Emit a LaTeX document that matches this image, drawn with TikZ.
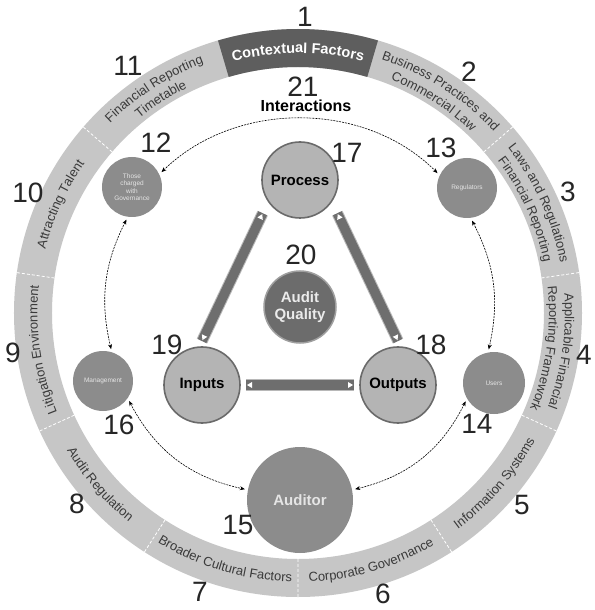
\documentclass[tikz,border=0pt]{standalone}
\usepackage{fontspec}
\setmainfont{Liberation Sans}
\usetikzlibrary{decorations.text,decorations.markings,arrows.meta,calc}
\definecolor{ringgray}{HTML}{C6C6C6}
\definecolor{ringdark}{HTML}{5E5E5E}
\definecolor{ringtxt}{HTML}{3A3A3A}
\definecolor{midgray}{HTML}{8C8C8C}
\definecolor{lightfill}{HTML}{B4B4B4}
\definecolor{darkborder}{HTML}{6A6A6A}
\definecolor{aqfill}{HTML}{6C6C6C}
\definecolor{barfill}{HTML}{6E6E6E}
\definecolor{barborder}{HTML}{B8B8B8}
\newcommand{\ringf}{\fontsize{13}{13}\selectfont}
\newcommand{\ctxf}{\fontsize{14.5}{14.5}\selectfont\bfseries}
\newcommand{\numf}{\fontsize{28}{28}\selectfont}
\newcommand{\cwtext}[4]{\path[decorate, decoration={text along path, text align=center, text color=ringtxt, text={|\ringf|#4}}] (#1:#3) arc[start angle=#1, end angle=#2, radius=#3];}
\begin{document}
\begin{tikzpicture}[x=1pt,y=1pt,
  num/.style={font=\numf, text=black!85, inner sep=0pt},
  maincirc/.style={circle, fill=lightfill, draw=darkborder, line width=1.6pt, minimum size=76pt, inner sep=0pt, font=\fontsize{15}{15}\selectfont\bfseries},
  aqcirc/.style={circle, fill=aqfill, draw=gray!75, line width=1.5pt, minimum size=72pt, inner sep=0pt, align=center, text=white!92!black, font=\fontsize{15}{17}\selectfont\bfseries},
  actor/.style={circle, fill=midgray, minimum size=60pt, inner sep=0pt, align=center, text=white!90!black, font=\fontsize{6.5}{7.5}\selectfont},
  inter/.style={black, line width=0.6pt, dash pattern=on 2pt off 1pt, {Stealth[length=5pt,width=4pt]}-{Stealth[length=5pt,width=4pt]}, shorten <=3pt, shorten >=3pt},
  bar/.style={draw=barborder, line width=1pt, double=barfill, double distance=9.5pt},
  barmarks/.style={decorate, decoration={markings,
     mark=at position 4pt with {\fill[white] (-3pt,0pt) -- (2pt,3pt) -- (2pt,-3pt) -- cycle;},
     mark=at position -4pt with {\fill[white] (3pt,0pt) -- (-2pt,3pt) -- (-2pt,-3pt) -- cycle;}}}
]
\fill[white] (-298,-297) rectangle (296,313);
\useasboundingbox (-298,-297) rectangle (296,313);

% ring
\fill[ringgray, even odd rule] (0,0) circle[radius=284] (0,0) circle[radius=246];
\fill[ringdark] (73.64:246) arc[start angle=73.64, end angle=106.36, radius=246] -- (106.36:284) arc[start angle=106.36, end angle=73.64, radius=284] -- cycle;
\foreach \k in {1,...,9} {
  \draw[white, line width=0.8pt, densely dashed] ({73.64-32.727*\k}:246) -- ({73.64-32.727*\k}:284);
}

% ring texts
\path[decorate, decoration={text along path, text align=center, text color=white, text={|\ctxf|Contextual Factors}}] (106:260) arc[start angle=106, end angle=74, radius=260];
\cwtext{73.3}{41.3}{267}{Business Practices and}
\cwtext{73.3}{41.3}{251}{Commercial Law}
\cwtext{40.5}{8.5}{267}{Laws and Regulations}
\cwtext{40.5}{8.5}{251}{Financial Reporting}
\cwtext{7.8}{-24.2}{267}{Applicable Financial}
\cwtext{7.8}{-24.2}{251}{Reporting Framework}
\cwtext{-56.9}{-24.9}{269}{Information Systems}
\cwtext{-89.6}{-57.6}{269}{Corporate Governance}
\cwtext{-122.4}{-90.4}{269}{Broader Cultural Factors}
\cwtext{-155.1}{-123.1}{269}{Audit Regulation}
\cwtext{204.2}{172.2}{260.5}{Litigation Environment}
\cwtext{171.4}{139.4}{260.5}{Attracting Talent}
\cwtext{138.7}{106.7}{267}{Financial Reporting}
\cwtext{138.7}{106.7}{251}{Timetable}

% nodes
\node[maincirc] (proc) at (2,133) {Process};
\node[maincirc] (inp) at (-96,-72) {Inputs};
\node[maincirc] (outp) at (100,-72) {Outputs};
\node[aqcirc] (aq) at (2,6) {Audit\\Quality};
\node[actor, minimum size=106pt, font=\fontsize{15}{15}\selectfont\bfseries] (aud) at (2,-187) {Auditor};
\node[actor] (tcwg) at (-166,126) {Those\\charged\\with\\Governance};
\node[actor] (reg) at (169,125) {Regulators};
\node[actor] (mgmt) at (-195,-68) {Management};
\node[actor, minimum size=62pt] (users) at (196,-70) {Users};
\node[font=\fontsize{16}{16}\selectfont\bfseries] (intl) at (8,207) {Interactions};

% bars
\coordinate (b1s) at ($(proc)+(221.7:50)$);
\coordinate (b1e) at ($(inp)+(90:44)$);
\coordinate (b2s) at ($(proc)+(-41.7:50)$);
\coordinate (b2e) at ($(outp)+(90:44)$);
\coordinate (b3s) at ($(inp)+(0:44)$);
\coordinate (b3e) at ($(outp)+(180:44)$);
\draw[bar] (b1s) -- (b1e);
\draw[bar] (b2s) -- (b2e);
\draw[bar] (b3s) -- (b3e);
\path[barmarks] (b1s) -- (b1e);
\path[barmarks] (b2s) -- (b2e);
\path[barmarks] (b3s) -- (b3e);

% interactions
\draw[inter] (tcwg.25) .. controls +(76,74) and +(-75,75) .. (reg.155);
\draw[inter] (tcwg.262) to[bend right=20] (mgmt.73);
\draw[inter] (reg.277) to[bend left=20] (users.101);
\draw[inter] (mgmt.-35) to[bend right=25] (aud.169);
\draw[inter] (users.210) to[bend left=25] (aud.11);

% numbers
\node[num] (n1) at (7,296) {1};
\node[num] (n2) at (171,241) {2};
\node[num] (n3) at (270,121) {3};
\node[num] (n4) at (286,-42) {4};
\node[num] (n5) at (224,-192) {5};
\node[num] (n6) at (85,-281) {6};
\node[num] (n7) at (-98,-279) {7};
\node[num] (n8) at (-221,-191) {8};
\node[num] (n9) at (-285,-40) {9};
\node[num] (n10) at (-270,120) {10};
\node[num] (n11) at (-170,247) {11};
\node[num] (n12) at (-142,170) {12};
\node[num] (n13) at (143,165) {13};
\node[num] (n14) at (179,-111) {14};
\node[num] (n15) at (-60,-212) {15};
\node[num] (n16) at (-179,-112) {16};
\node[num] (n17) at (49,160) {17};
\node[num] (n18) at (133,-32) {18};
\node[num] (n19) at (-131,-32) {19};
\node[num] (n20) at (3,58) {20};
\node[num] (n21) at (5,226) {21};
\end{tikzpicture}
\end{document}
